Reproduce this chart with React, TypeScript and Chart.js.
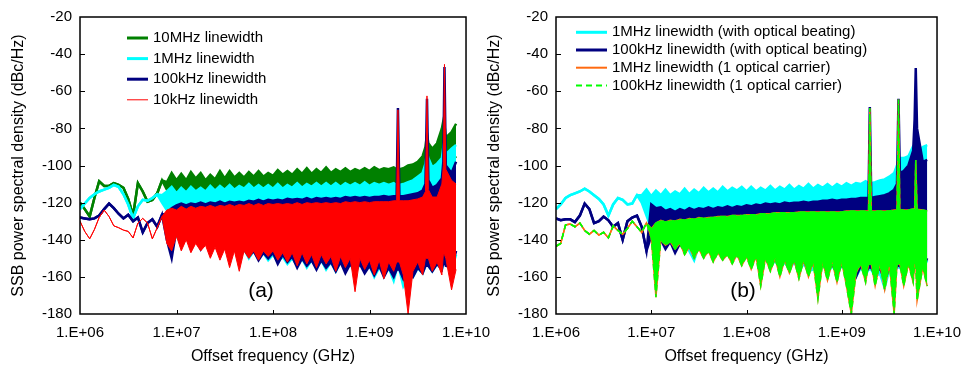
import React, { useEffect, useRef } from 'react';
import { Chart, registerables } from 'chart.js';

Chart.register(...registerables);
Chart.defaults.font.family = "'Liberation Sans', Arial, sans-serif";
Chart.defaults.color = '#000';

// shared frequency grid (Hz)
const freqHz = [
  1.00e6, 1.12e6, 1.26e6, 1.41e6, 1.58e6, 1.78e6, 2.00e6, 2.24e6, 2.51e6, 2.82e6,
  3.16e6, 3.55e6, 3.98e6, 4.47e6, 5.01e6, 5.62e6, 6.31e6, 7.08e6, 7.94e6, 8.91e6,
  1.00e7, 1.12e7, 1.26e7, 1.41e7, 1.58e7, 1.78e7, 2.00e7, 2.24e7, 2.51e7, 2.82e7,
  3.16e7, 3.55e7, 3.98e7, 4.47e7, 5.01e7, 5.62e7, 6.31e7, 7.08e7, 7.94e7, 8.91e7,
  1.00e8, 1.12e8, 1.26e8, 1.41e8, 1.58e8, 1.78e8, 2.00e8, 2.24e8, 2.51e8, 2.82e8,
  3.16e8, 3.55e8, 3.98e8, 4.47e8, 5.01e8, 5.62e8, 6.31e8, 7.08e8, 7.94e8, 8.91e8,
  1.00e9, 1.12e9, 1.26e9, 1.41e9, 1.58e9, 1.78e9, 1.91e9, 1.97e9, 2.04e9, 2.24e9,
  2.51e9, 2.82e9, 3.16e9, 3.55e9, 3.80e9, 3.94e9, 4.07e9, 4.47e9, 5.01e9, 5.62e9,
  5.82e9, 5.98e9, 6.17e9, 7.08e9, 7.89e9,
];

const xTickValues = [1e6, 1e7, 1e8, 1e9, 1e10];
const xTickLabels = ['1.E+06', '1.E+07', '1.E+08', '1.E+09', '1.E+10'];
const yTickValues = [-180, -160, -140, -120, -100, -80, -60, -40, -20];

// ---------- panel (a): upper / lower envelopes (dBc/Hz) ----------
const a10M_hi = [
  -120, -123.5, -127.5, -117.5, -108.5, -111, -111, -109.5, -110.5, -112,
  -118, -127, -109.5, -114, -119.5, -118.5, -115, -108, -109, -104,
  -108, -104.5, -108, -103.5, -107, -104, -108, -105, -107.5, -103,
  -107, -103, -106.5, -104, -106.5, -103.5, -106, -103, -106, -104,
  -105.5, -102.5, -105, -103, -105, -102, -104.5, -101.5, -104.5, -102,
  -104, -101, -104, -102, -103.5, -101.5, -103.5, -102, -103, -101.5,
  -103, -101, -102.5, -101.5, -102, -101, -102, -102, -102, -101.5,
  -100, -99.5, -98, -95, -90, -83, -88, -91, -88, -80,
  -76, -78, -85, -82, -77.5,
];
const a10M_lo = [
  -120, -123.5, -127.5, -117.5, -108.5, -111, -111, -109.5, -110.5, -112,
  -118, -127, -109.5, -114, -119.5, -118.5, -115, -108, -113, -116,
  -118, -117, -119, -118, -118, -117, -119, -118, -118, -117,
  -118, -117, -119, -118, -118, -117, -118, -117, -118, -117,
  -118, -117, -118, -117, -118, -117, -118, -117, -118, -117,
  -118, -117, -118, -117, -118, -117, -118, -117, -118, -117,
  -118, -117, -118, -117, -118, -117, -118, -117, -118, -117,
  -118, -116, -114, -112, -108, -105, -106, -108, -106, -100,
  -98, -98, -100, -98, -95,
];
const a1M_hi = [
  -123.5, -120.5, -117.5, -115.5, -114, -113, -112, -110.5, -111.5, -115.5,
  -121, -128.5, -122, -118.5, -119, -117.5, -115.5, -116, -114, -111.5,
  -115, -112, -114.5, -111.5, -114, -112, -114, -111, -113.5, -111,
  -113, -110.5, -113, -111, -112.5, -110, -112.5, -110.5, -112.5, -110.5,
  -112.5, -110, -112.5, -110.5, -112, -109.5, -112, -110, -111.5, -109.5,
  -111.5, -109.5, -111.5, -109.5, -111.5, -109.5, -111, -109.5, -111, -109,
  -111, -109.5, -110.5, -109.5, -110.5, -109.5, -110.5, -110, -110.5, -110,
  -109, -108, -106, -104, -99, -93, -96, -101, -99, -96,
  -90, -87, -94, -91, -89,
];
const a1M_lo = [
  -123.5, -120.5, -117.5, -115.5, -114, -113, -112, -110.5, -111.5, -115.5,
  -121, -128.5, -122, -118.5, -119, -117.5, -115.5, -120, -124, -130,
  -138, -142, -133, -140, -136, -142, -138, -147, -140, -148,
  -142, -146, -144, -148, -145, -150, -146, -150, -147, -151,
  -148, -152, -149, -153, -150, -154, -150, -155, -151, -154,
  -151, -156, -152, -157, -152, -156, -153, -158, -153, -157,
  -154, -160, -155, -158, -155, -162, -156, -156, -156, -165,
  -160, -160, -155, -158, -154, -154, -154, -157, -153, -156,
  -152, -152, -153, -156, -148,
];
const a100k_hi = [
  -128, -128.5, -129, -128.5, -127, -123.5, -120.5, -123, -126, -128.5,
  -126.5, -130, -128, -136, -131, -129, -133, -126.5, -126, -123,
  -121.5, -120.5, -121.5, -120.5, -121, -120, -121, -120, -120.5, -119.5,
  -120.5, -119.5, -120, -119.5, -120, -119, -119.5, -118.5, -119.5, -118.5,
  -119, -118.5, -119, -118, -118.5, -118, -118.5, -117.5, -118.5, -117.5,
  -118, -117.5, -118, -117.5, -118, -117, -117.5, -117, -117.5, -117,
  -117.5, -117, -117, -116.5, -117, -116.5, -116.5, -69, -116.5, -116.5,
  -116, -115.5, -115, -113.5, -110, -64, -108, -112, -110.5, -107,
  -98, -47, -100, -104, -98,
];
const a100k_lo = [
  -128, -128.5, -129, -128.5, -127, -123.5, -120.5, -123, -126, -128.5,
  -126.5, -130, -128, -136, -131, -129, -133, -126.5, -140, -150,
  -134, -141, -136, -143, -139, -145, -140, -146, -141, -148,
  -143, -147, -144, -150, -145, -149, -146, -151, -147, -150,
  -147, -153, -148, -152, -149, -155, -150, -154, -151, -156,
  -151, -155, -152, -157, -152, -158, -153, -157, -153, -158,
  -154, -159, -154, -160, -155, -160, -156, -156, -156, -161,
  -156, -160, -155, -158, -154, -154, -154, -157, -153, -156,
  -152, -152, -154, -155, -146,
];
const a10k_hi = [
  -130, -135.5, -139.5, -134.5, -128, -124, -127.5, -132.5, -133.5, -134.8,
  -135.5, -139, -131, -128.5, -131, -139.5, -133.5, -127.5, -124, -123,
  -124, -122, -123.5, -122, -123, -122, -122.5, -121.5, -122.5, -121.5,
  -122, -121, -122, -121, -121.5, -120.5, -121.5, -120.5, -121.5, -120.5,
  -121, -120.5, -121, -120.5, -121, -120, -121, -120, -120.5, -120,
  -120.5, -120, -120.5, -120, -120.5, -119.5, -120, -119.5, -120, -119.5,
  -120, -119.5, -119.5, -119.5, -119.5, -119, -119, -70, -119, -119,
  -119, -118.5, -118, -117, -114, -62.5, -113, -117, -117, -110,
  -100, -45.5, -102, -108, -110,
];
const a10k_lo = [
  -130, -135.5, -139.5, -134.5, -128, -124, -127.5, -132.5, -133.5, -134.8,
  -135.5, -139, -131, -128.5, -131, -139.5, -133.5, -127.5, -142, -146,
  -138, -146, -140, -147, -142, -146, -143, -150, -144, -151,
  -145, -155, -146, -157, -146, -150, -146, -151, -146, -149,
  -146, -151, -147, -152, -147, -154, -147, -153, -148, -155,
  -148, -153, -149, -157, -149, -155, -150, -168, -150, -156,
  -151, -159, -151, -161, -152, -157, -152, -152, -152, -159,
  -180, -157, -152, -159, -150, -150, -150, -157, -152, -159,
  -148, -148, -150, -167, -156,
];

// ---------- panel (b) ----------
const b1M_hi = [
  -123.5, -121, -117.5, -116, -115, -114, -112.5, -114, -116, -118,
  -121, -127, -121, -117.5, -118.5, -121, -120.5, -116, -116, -113,
  -116.5, -113.5, -116, -113, -116, -114, -115.5, -112.5, -115.5, -113,
  -115, -112, -114.5, -112.5, -114.5, -111.5, -114, -112, -113.5, -111.5,
  -114, -111.5, -114, -112, -113.5, -111, -113.5, -111.5, -113, -110.5,
  -113, -111, -112.5, -110, -112.5, -110.5, -112, -110, -112, -110,
  -111.5, -109.5, -111, -109.5, -110, -108.5, -109.5, -108.5, -109.5, -109,
  -108, -107.5, -106, -104, -100, -97, -96, -96, -95, -89.5,
  -89, -90, -94, -90, -89,
];
const b1M_lo = [
  -123.5, -121, -117.5, -116, -115, -114, -112.5, -114, -116, -118,
  -121, -127, -121, -117.5, -118.5, -121, -120.5, -116, -120, -127,
  -134, -128, -138, -135, -140, -137, -142, -139, -146, -151,
  -143, -147, -145, -149, -146, -150, -147, -151, -148, -152,
  -149, -152, -150, -154, -150, -155, -151, -156, -152, -156,
  -152, -157, -153, -157, -156, -152, -153, -158, -154, -158,
  -154, -158, -155, -160, -155, -159, -156, -156, -156, -160,
  -158, -166, -156, -159, -155, -155, -155, -158, -153, -157,
  -153, -153, -154, -156, -151,
];
const b100k_hi = [
  -128.5, -129.5, -129, -129, -130.5, -127, -120.5, -123.5, -131, -130,
  -127.5, -129.5, -133, -131, -140, -130, -128, -127, -133, -146,
  -121, -123, -122.5, -124.5, -123.5, -125, -123.5, -124.5, -123, -124,
  -123, -123.5, -122.5, -123.5, -122.5, -123, -122, -123, -122, -122.5,
  -121.5, -122, -121, -121.5, -120.5, -121, -120.5, -121, -120, -120.5,
  -120, -120, -119.5, -120, -119.5, -119.5, -119, -119, -118.5, -119,
  -118.5, -118.5, -118, -118, -117.5, -117.5, -117.5, -68.5, -117.5, -117,
  -116.5, -116, -115, -113, -110, -64, -104, -103, -100, -92,
  -75, -47.5, -80, -98, -97,
];
const b100k_lo = [
  -128.5, -129.5, -129, -129, -130.5, -127, -120.5, -123.5, -131, -130,
  -127.5, -129.5, -133, -131, -140, -130, -128, -127, -133, -146,
  -138, -146, -140, -145, -141, -147, -142, -146, -143, -147,
  -143, -146, -144, -148, -145, -148, -146, -150, -147, -151,
  -147, -152, -148, -154, -149, -154, -150, -155, -150, -154,
  -151, -156, -151, -157, -152, -155, -152, -157, -153, -158,
  -153, -157, -154, -160, -154, -158, -155, -155, -155, -159,
  -155, -162, -155, -158, -154, -154, -154, -157, -152, -156,
  -152, -152, -153, -155, -150,
];
const b1Mc_hi = [
  -143.5, -142, -132, -131.5, -133, -131, -135, -137, -135, -137.5,
  -136, -139, -132.5, -135, -137, -134, -130, -133, -136, -131,
  -134, -131, -129.5, -130.5, -129.5, -130, -129, -129.5, -128.5, -129,
  -128, -128.5, -128, -128, -127.5, -127.5, -127.5, -127, -127, -127,
  -126.5, -126.5, -126.5, -126, -126, -126, -125.5, -125.5, -125.5, -125.5,
  -125.5, -125, -125, -125, -125, -125, -125, -125, -125, -125,
  -125, -124.5, -124.5, -124.5, -124.5, -124.5, -124.5, -69, -124.5, -124.5,
  -124.5, -124.5, -124.5, -124, -124, -64.5, -124, -124, -124, -123.5,
  -123.5, -97, -123.5, -124, -124.5,
];
const b1Mc_lo = [
  -143.5, -142, -132, -131.5, -133, -131, -135, -137, -135, -137.5,
  -136, -139, -132.5, -135, -137, -134, -130, -133, -136, -131,
  -139, -171, -140, -143, -141, -145, -142, -148, -144, -150,
  -145, -150, -146, -152, -147, -151, -148, -153, -148, -154,
  -149, -156, -149, -165, -150, -157, -150, -160, -151, -158,
  -151, -161, -151, -160, -152, -172, -152, -162, -152, -163,
  -152, -165, -180, -158, -153, -163, -153, -153, -153, -165,
  -153, -167, -153, -180, -153, -153, -153, -165, -153, -163,
  -153, -153, -173, -155, -165,
];
const b100kc_hi = [
  -143.5, -142, -132, -131.5, -133, -131, -135, -137, -135, -137.5,
  -136, -139, -132.5, -135, -137, -134, -130, -133, -136, -131,
  -134, -131, -129.5, -130.5, -129.5, -130, -129, -129.5, -128.5, -129,
  -128, -128.5, -128, -128, -127.5, -127.5, -127.5, -127, -127, -127,
  -126.5, -126.5, -126.5, -126, -126, -126, -125.5, -125.5, -125.5, -125.5,
  -125.5, -125, -125, -125, -125, -125, -125, -125, -125, -125,
  -125, -124.5, -124.5, -124.5, -124.5, -124.5, -124.5, -69, -124.5, -124.5,
  -124.5, -124.5, -124.5, -124, -124, -64.5, -124, -124, -124, -123.5,
  -123.5, -97, -123.5, -124, -124.5,
];
const b100kc_lo = [
  -143.5, -142, -132, -131.5, -133, -131, -135, -137, -135, -137.5,
  -136, -139, -132.5, -135, -137, -134, -130, -133, -136, -131,
  -139, -171, -140, -143, -141, -145, -142, -148, -144, -150,
  -145, -150, -146, -152, -147, -151, -148, -153, -148, -154,
  -149, -156, -149, -165, -150, -157, -150, -160, -151, -158,
  -151, -161, -151, -160, -152, -172, -152, -162, -152, -163,
  -152, -165, -180, -158, -153, -163, -153, -153, -153, -165,
  -153, -167, -153, -180, -153, -153, -153, -165, -153, -163,
  -153, -153, -173, -155, -165,
];

type Series = {
  label: string;
  hi: number[];
  lo: number[];
  color: string;
  width: number;
  legendWidth: number;
  dash?: number[];
  order: number;
};

function bandDatasets(s: Series) {
  const common = {
    borderColor: s.color,
    backgroundColor: s.color,
    borderWidth: s.width,
    borderDash: s.dash || [],
    pointRadius: 0,
    pointHoverRadius: 0,
    tension: 0,
    order: s.order,
  };
  return [
    {
      ...common,
      label: s.label,
      legendEntry: true,
      legendWidth: s.legendWidth,
      data: freqHz.map((f, i) => ({ x: f, y: s.hi[i] })),
      fill: false,
    },
    {
      ...common,
      label: '',
      data: freqHz.map((f, i) => ({ x: f, y: s.lo[i] })),
      fill: '-1',
    },
  ];
}

const seriesA: Series[] = [
  { label: '10MHz linewidth', hi: a10M_hi, lo: a10M_lo, color: '#008000', width: 2.5, legendWidth: 3, order: 3 },
  { label: '1MHz linewidth', hi: a1M_hi, lo: a1M_lo, color: '#00ffff', width: 2.5, legendWidth: 3, order: 2 },
  { label: '100kHz linewidth', hi: a100k_hi, lo: a100k_lo, color: '#000080', width: 2.5, legendWidth: 3, order: 1 },
  { label: '10kHz linewidth', hi: a10k_hi, lo: a10k_lo, color: '#ff0000', width: 1, legendWidth: 1, order: 0 },
];

const seriesB: Series[] = [
  { label: '1MHz linewidth (with optical beating)', hi: b1M_hi, lo: b1M_lo, color: '#00ffff', width: 2.5, legendWidth: 3, order: 3 },
  { label: '100kHz linewidth (with optical beating)', hi: b100k_hi, lo: b100k_lo, color: '#000080', width: 2.5, legendWidth: 3, order: 2 },
  { label: '1MHz linewidth (1 optical carrier)', hi: b1Mc_hi, lo: b1Mc_lo, color: '#ff6a10', width: 1.5, legendWidth: 2, order: 1 },
  { label: '100kHz linewidth (1 optical carrier)', hi: b100kc_hi, lo: b100kc_lo, color: '#00ff00', width: 1.5, legendWidth: 2, dash: [6, 4], order: 0 },
];

const framePlugin = {
  id: 'frame',
  afterDatasetsDraw(chart: any) {
    const { ctx, chartArea: a, scales } = chart;
    ctx.save();
    ctx.strokeStyle = '#000';
    ctx.lineWidth = 1.5;
    ctx.setLineDash([]);
    ctx.strokeRect(a.left, a.top, a.right - a.left, a.bottom - a.top);
    ctx.lineWidth = 1;
    ctx.beginPath();
    xTickValues.slice(1, -1).forEach((v) => {
      const x = Math.round(scales.x.getPixelForValue(v)) + 0.5;
      ctx.moveTo(x, a.bottom);
      ctx.lineTo(x, a.bottom - 4);
    });
    yTickValues.slice(1, -1).forEach((v) => {
      const y = Math.round(scales.y.getPixelForValue(v)) + 0.5;
      ctx.moveTo(a.left, y);
      ctx.lineTo(a.left + 5, y);
    });
    ctx.stroke();
    ctx.restore();
  },
  afterDraw(chart: any, _args: any, opts: any) {
    const { ctx, chartArea: a } = chart;
    ctx.save();
    const items = chart.data.datasets.filter((d: any) => d.legendEntry);
    items.forEach((d: any, i: number) => {
      const y = a.top + opts.legendTop + i * opts.legendGap;
      ctx.beginPath();
      ctx.strokeStyle = d.borderColor;
      ctx.lineWidth = d.legendWidth;
      ctx.setLineDash(d.borderDash || []);
      ctx.moveTo(a.left + opts.lineX0, y);
      ctx.lineTo(a.left + opts.lineX1, y);
      ctx.stroke();
      ctx.setLineDash([]);
      ctx.fillStyle = '#000';
      ctx.font = "15px 'Liberation Sans', Arial, sans-serif";
      ctx.textBaseline = 'middle';
      ctx.textAlign = 'left';
      ctx.fillText(d.label, a.left + opts.textX, y);
    });
    ctx.font = "21px 'Liberation Sans', Arial, sans-serif";
    ctx.textAlign = 'center';
    ctx.textBaseline = 'middle';
    ctx.fillStyle = '#000';
    ctx.fillText(opts.panel, a.left + opts.panelX, a.top + opts.panelY);
    ctx.restore();
  },
};

function makeConfig(series: Series[], padRight: number, frameOpts: any) {
  const datasets = series.flatMap(bandDatasets);
  return {
    type: 'line' as const,
    data: { datasets },
    options: {
      animation: false,
      responsive: false,
      devicePixelRatio: 1,
      events: [],
      layout: { padding: { top: 14, right: padRight, left: 0, bottom: 0 } },
      plugins: {
        legend: { display: false },
        tooltip: { enabled: false },
        frame: frameOpts,
      },
      scales: {
        x: {
          type: 'logarithmic',
          min: 1e6,
          max: 1e10,
          grid: { display: false, drawTicks: false },
          border: { display: false },
          afterBuildTicks: (s: any) => {
            s.ticks = xTickValues.map((v) => ({ value: v }));
          },
          afterFit: (s: any) => {
            s.height = 52;
          },
          ticks: {
            autoSkip: false,
            maxRotation: 0,
            minRotation: 0,
            padding: 10,
            color: '#000',
            font: { size: 15 },
            callback: (_v: any, i: number) => xTickLabels[i],
          },
          title: {
            display: true,
            text: 'Offset frequency (GHz)',
            color: '#000',
            font: { size: 16 },
            padding: { top: 0, bottom: 0 },
          },
        },
        y: {
          type: 'linear',
          min: -180,
          max: -20,
          grid: { display: false, drawTicks: false },
          border: { display: false },
          afterBuildTicks: (s: any) => {
            s.ticks = yTickValues.map((v) => ({ value: v }));
          },
          afterFit: (s: any) => {
            s.width = 80;
          },
          ticks: {
            padding: 8,
            color: '#000',
            font: { size: 15 },
            callback: (v: any) => String(v),
          },
          title: {
            display: true,
            text: 'SSB power spectral density (dBc/Hz)',
            color: '#000',
            font: { size: 16 },
            padding: { top: 9, bottom: 0 },
          },
        },
      },
    },
    plugins: [framePlugin],
  };
}

function Panel(props: { series: Series[]; left: number; width: number; padRight: number; frameOpts: any }) {
  const ref = useRef<HTMLCanvasElement | null>(null);
  useEffect(() => {
    const chart = new Chart(ref.current as HTMLCanvasElement, makeConfig(props.series, props.padRight, props.frameOpts) as any);
    return () => chart.destroy();
  }, []);
  return (
    <canvas
      ref={ref}
      width={props.width}
      height={366}
      style={{ position: 'absolute', left: props.left, top: 0, width: props.width, height: 366 }}
    />
  );
}

export default function App() {
  return (
    <div style={{ position: 'absolute', left: 0, top: 0, width: 971, height: 366, background: '#fff', overflow: 'hidden' }}>
      <Panel
        series={seriesA}
        left={0}
        width={500}
        padRight={33}
        frameOpts={{ legendTop: 21, legendGap: 20.6, lineX0: 47, lineX1: 68, textX: 73, panel: '(a)', panelX: 181, panelY: 274 }}
      />
      <Panel
        series={seriesB}
        left={476}
        width={495}
        padRight={27}
        frameOpts={{ legendTop: 15.3, legendGap: 17.7, lineX0: 20, lineX1: 51, textX: 56, panel: '(b)', panelX: 187, panelY: 274 }}
      />
    </div>
  );
}
